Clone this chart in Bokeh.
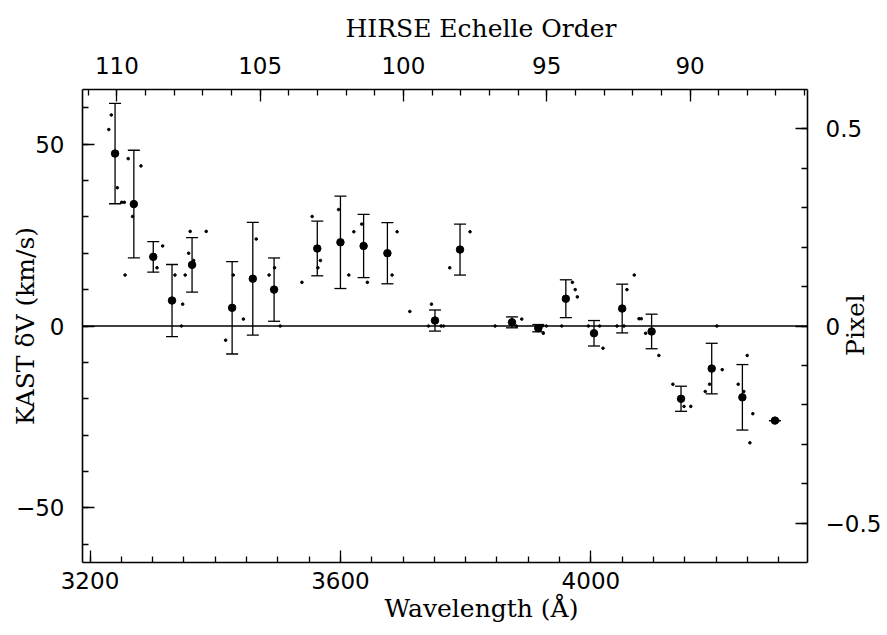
import math
from bokeh.plotting import figure
from bokeh.models import (ColumnDataSource, Range1d, LinearAxis, FixedTicker,
                          Whisker, TeeHead, Span, Title, CustomJSTickFormatter)
from bokeh.embed import file_html
from bokeh.resources import INLINE

# Mean velocity offsets per echelle order (big dots with error bars)
mean_wl = [3240, 3270, 3301, 3331, 3363, 3427, 3460, 3494, 3563, 3600, 3637, 3675,
           3751, 3791, 3874, 3916, 3960, 4005, 4050, 4097, 4144, 4193, 4242, 4294]
mean_dv = [47.4, 33.5, 19.0, 7.0, 16.8, 5.0, 13.0, 10.0, 21.3, 23.0, 22.0, 20.0,
           1.5, 21.0, 1.0, -0.6, 7.5, -2.0, 4.8, -1.5, -20.0, -11.7, -19.6, -26.0]
mean_err = [13.8, 14.8, 4.2, 9.9, 7.5, 12.7, 15.5, 8.7, 7.5, 12.7, 8.7, 8.4,
            2.9, 7.0, 1.5, 1.0, 5.2, 3.5, 6.7, 4.75, 3.45, 6.95, 9.0, 0.0]

# Individual line measurements (small dots)
pt_wl = [3234, 3230, 3243.6, 3250.6, 3254.8, 3256,
         3261, 3281.4, 3268,
         3316, 3307,
         3335.7, 3348, 3346,
         3360, 3357.5, 3365.5, 3352, 3385.6,
         3416.6, 3428.8, 3445,
         3465.5,
         3494.8, 3486, 3503.8,
         3554.8, 3564, 3568, 3538.5,
         3597, 3613.4,
         3634, 3621.4, 3643,
         3690.5, 3682.5,
         3710.8,
         3745.4, 3740.6, 3760.8, 3764.6,
         3807, 3774.6,
         3847,
         3889.6, 3881,
         3922.5, 3929, 3924,
         3970.5, 3975, 3978.4, 3953.4,
         3996, 4014, 4019.4,
         4057.6, 4069.3, 4041.7, 4052.9,
         4076.8, 4080.5,
         4087.5, 4108.6,
         4131, 4148.8, 4159.6,
         4201.3, 4209.8, 4189.6, 4182.7,
         4249.7, 4235.3, 4244.3, 4258.7, 4254,
         4299]
pt_dv = [58.0, 54.0, 38.0, 34.0, 34.0, 14.0,
         46.0, 44.0, 30.1,
         22.0, 16.0,
         14.0, 6.0, 0.0,
         26.0, 20.0, 18.0, 14.0, 26.0,
         -3.9, 14.0, 1.9,
         23.9,
         16.0, 14.0, 0.0,
         30.1, 16.0, 18.0, 12.0,
         32.0, 14.0,
         28.0, 25.9, 12.0,
         25.9, 14.0,
         4.0,
         6.0, 0.0, 0.0, 0.0,
         25.9, 16.0,
         0.0,
         1.9, 0.0,
         0.0, 0.0, -2.0,
         12.0, 10.0, 8.0, 0.0,
         0.0, 0.0, -6.1,
         10.0, 14.0, 0.0, 0.0,
         2.0, 2.0,
         -2.0, -8.1,
         -16.0, -22.1, -22.1,
         0.0, -12.0, -16.0, -18.0,
         -8.1, -16.0, -18.0, -24.1, -32.1,
         -26.0]

x_ticks = [3200, 3600, 4000]
x_minor = list(range(3200, 4301, 50))
y_ticks = [-50, 0, 50]
y_minor = list(range(-60, 61, 10))
order_ticks = [90, 95, 100, 105, 110]
order_minor = list(range(86, 112))
pix_ticks = [-0.5, 0, 0.5]
pix_minor = [round(-0.5 + 0.1 * i, 1) for i in range(11)]

lo = [d - e for d, e in zip(mean_dv, mean_err)]
hi = [d + e for d, e in zip(mean_dv, mean_err)]
src = ColumnDataSource(dict(x=mean_wl, y=mean_dv, lo=lo, hi=hi))
pts = ColumnDataSource(dict(x=pt_wl, y=pt_dv))

p = figure(width=887, height=635, output_backend="svg", toolbar_location=None,
           x_range=Range1d(3188, 4346), y_range=Range1d(-65, 65),
           min_border_left=82, min_border_right=80, min_border_top=89, min_border_bottom=73,
           title="HIRSE Echelle Order")
p.extra_x_ranges = {"order": Range1d(111.2, 85.9)}
p.extra_y_ranges = {"pix": Range1d(-0.6, 0.6)}
p.grid.visible = False
p.outline_line_color = None
p.background_fill_color = "white"
p.border_fill_color = "white"

neg_fmt = CustomJSTickFormatter(code="""
    const v = Math.abs(tick) < 1e-9 ? 0 : tick;
    return v < 0 ? "\\u2212" + String(Math.abs(v)) : String(v);
""")

LABEL_FONT = "DejaVu Serif"
LABEL_SIZE = "25px"

def style(ax, ticks, minor):
    ax.ticker = FixedTicker(ticks=ticks, minor_ticks=minor)
    ax.major_tick_in = 12
    ax.major_tick_out = 0
    ax.minor_tick_in = 6
    ax.minor_tick_out = 0
    ax.axis_line_width = 1.6
    ax.axis_line_color = "black"
    ax.major_tick_line_width = 1.3
    ax.minor_tick_line_width = 1.3
    ax.major_tick_line_color = "black"
    ax.minor_tick_line_color = "black"
    ax.major_label_text_font = "DejaVu Sans"
    ax.major_label_text_font_size = "23px"
    ax.major_label_text_color = "black"
    ax.axis_label_text_font = LABEL_FONT
    ax.axis_label_text_font_size = LABEL_SIZE
    ax.axis_label_text_font_style = "normal"
    ax.axis_label_text_color = "black"

xb = p.xaxis[0]
style(xb, x_ticks, x_minor)
xb.major_label_standoff = 9

yl = p.yaxis[0]
style(yl, y_ticks, y_minor)
yl.formatter = neg_fmt
yl.major_label_standoff = 18
yl.axis_label = "KAST δV (km/s)"
yl.axis_label_standoff = -27

top = LinearAxis(x_range_name="order")
style(top, order_ticks, order_minor)
top.major_label_standoff = 16
p.add_layout(top, "above")

# right axis: label reads bottom-to-top; it starts from the bottom of the axis,
# so non-breaking spaces lift the word to the middle of the frame
right = LinearAxis(y_range_name="pix")
style(right, pix_ticks, pix_minor)
right.formatter = neg_fmt
right.major_label_standoff = 18
right.axis_label = "\u00a0" * 26 + "Pixel"
right.axis_label_orientation = math.pi / 2
right.axis_label_align = "start"
right.axis_label_standoff = -29
p.add_layout(right, "right")

p.title.align = "left"
p.title.offset = 263
p.title.text_font = LABEL_FONT
p.title.text_font_size = LABEL_SIZE
p.title.text_font_style = "normal"
p.title.text_color = "black"
p.title.standoff = 22

bt = Title(text="Wavelength (Å)", align="left", offset=302, text_font=LABEL_FONT,
           text_font_size=LABEL_SIZE, text_font_style="normal", text_color="black", standoff=0)
p.add_layout(bt, "below")

p.add_layout(Span(location=0, dimension="width", line_color="black", line_width=1.3))

p.add_layout(Whisker(source=src, base="x", lower="lo", upper="hi", dimension="height",
                     line_color="black", line_width=1.3,
                     upper_head=TeeHead(size=12, line_color="black", line_width=1.3),
                     lower_head=TeeHead(size=12, line_color="black", line_width=1.3)))
p.scatter("x", "y", source=pts, size=2.6, color="black")
p.scatter("x", "y", source=src, size=7.5, color="black")

open("out.html", "w").write(file_html(p, INLINE))
